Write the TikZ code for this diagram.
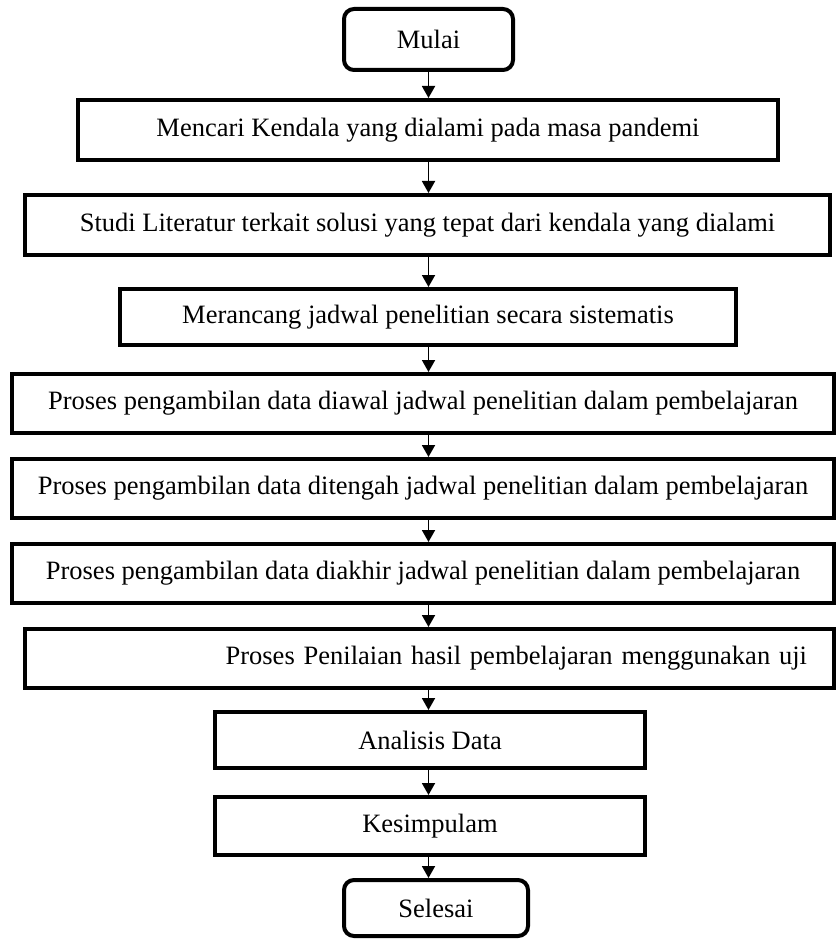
\documentclass[tikz,border=0pt]{standalone}
\usepackage{fontspec}
\setmainfont{Liberation Serif}
\usetikzlibrary{arrows.meta}

\begin{document}
\begin{tikzpicture}[x=1pt, y=-1pt, >={Triangle[length=12pt,width=13pt]},
		every box/.style={draw, line width=4pt, inner sep=0pt, font=\fontsize{26.5}{31}\selectfont},
		box mulai/.style={rounded corners=10pt},
		box selesai/.style={rounded corners=10pt},
		box uji/.style={text width=755pt, align=right, inner xsep=27pt}]

		\useasboundingbox (0,0) rectangle (837,941);

		% draw nodes
		\foreach \n/\cx/\cy/\w/\h/\l in {
			mulai/428.5/39.5/169/61/Mulai,
			mencari/428/130/700/60/{Mencari Kendala yang dialami pada masa pandemi},
			studi/427.5/225/805/60/{Studi Literatur terkait solusi yang tepat dari kendala yang dialami},
			merancang/428/317/616/56/{Merancang jadwal penelitian secara sistematis},
			awal/423/403.5/822/59/{Proses pengambilan data diawal jadwal penelitian dalam pembelajaran},
			tengah/423/488.5/822/59/{Proses pengambilan data ditengah jadwal penelitian dalam pembelajaran},
			akhir/423/573.5/822/59/{Proses pengambilan data diakhir jadwal penelitian dalam pembelajaran},
			uji/429.5/658.5/809/59/{Proses Penilaian hasil pembelajaran menggunakan uji},
			analisis/430/740/430/56/{Analisis Data},
			kesimpulam/430/826/430/58/Kesimpulam,
			selesai/436/908/184/56/Selesai}
			\node [every box/.try, box \n/.try, minimum width=\w pt, minimum height=\h pt] (\n) at (\cx,\cy) {\l};

		% arrows between the steps
		\foreach \a/\b in {mulai/mencari, mencari/studi, studi/merancang, merancang/awal,
			awal/tengah, tengah/akhir, akhir/uji, uji/analisis, analisis/kesimpulam, kesimpulam/selesai}
			\draw [->, line width=1.8pt] (\a.south -| mulai) -- (\b.north -| mulai);

\end{tikzpicture}
\end{document}
